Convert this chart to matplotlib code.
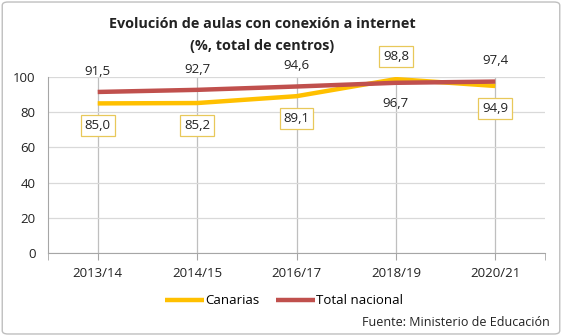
import matplotlib.pyplot as plt
from matplotlib.patches import FancyBboxPatch

cursos = ['2013/14', '2014/15', '2016/17', '2018/19', '2020/21']
canarias = [85.0, 85.2, 89.1, 98.8, 94.9]
total_nacional = [91.5, 92.7, 94.6, 96.7, 97.4]
# position of each label relative to its line: +1 above, -1 below
pos_canarias = [-1, -1, -1, 1, -1]
pos_nacional = [1, 1, 1, -1, 1]

yellow = '#FFC000'
red = '#C0504D'

plt.rcParams['font.family'] = ['Open Sans', 'DejaVu Sans']

fig = plt.figure(figsize=(5.62, 3.36), dpi=100)
ax = fig.add_axes([48 / 562, 1 - 253 / 336, (545 - 48) / 562, 176 / 336])

x = range(len(cursos))
ax.plot(x, canarias, color=yellow, linewidth=3.2, label='Canarias',
        solid_capstyle='butt')
ax.plot(x, total_nacional, color=red, linewidth=3.2, label='Total nacional',
        solid_capstyle='butt')

fmt = lambda v: '{:.1f}'.format(v).replace('.', ',')
for i in x:
    ax.annotate(fmt(canarias[i]), (i, canarias[i]),
                xytext=(0, 16 * pos_canarias[i]), textcoords='offset points',
                ha='center', va='center', fontsize=9.5, color='#222222',
                bbox=dict(boxstyle='square,pad=0.3', fc='white',
                          ec='#E8C85A', lw=0.9))
    ax.annotate(fmt(total_nacional[i]), (i, total_nacional[i]),
                xytext=(0, 15 * pos_nacional[i]), textcoords='offset points',
                ha='center', va='center', fontsize=9.5, color='#222222')

ax.set_xlim(-0.5, 4.5)
ax.set_ylim(0, 100)
ax.set_yticks(range(0, 101, 20))
ax.set_xticks(list(x))
ax.set_xticklabels(cursos)
ax.set_xticks([-0.5, 4.5], minor=True)
ax.grid(axis='y', color='#D9D9D9', linewidth=0.9)
ax.grid(axis='x', color='#BFBFBF', linewidth=0.9)
ax.set_axisbelow(True)
for side in ['top', 'right']:
    ax.spines[side].set_visible(False)
ax.spines['left'].set_color('#A6A6A6')
ax.spines['bottom'].set_color('#A6A6A6')
ax.tick_params(axis='x', which='both', length=5, color='#A6A6A6',
               labelsize=9.5, labelcolor='#222222', pad=5)
ax.tick_params(axis='y', length=0, labelsize=9.5, labelcolor='#222222', pad=9)

fig.text(0.466, 1 - 24 / 336, 'Evolución de aulas con conexión a internet',
         ha='center', va='center', fontsize=10.4, fontweight='bold',
         color='#222222')
fig.text(0.466, 1 - 46 / 336, '(%, total de centros)',
         ha='center', va='center', fontsize=10.4, fontweight='bold',
         color='#222222')

fig.legend(loc='center', bbox_to_anchor=(284 / 562, 1 - 301 / 336), ncol=2,
           frameon=False, fontsize=9.5, handlelength=3, handletextpad=0.1,
           columnspacing=1.2)
fig.text(550 / 562, 1 - 322 / 336, 'Fuente: Ministerio de Educación',
         ha='right', va='center', fontsize=9, color='#222222')

fig.patches.append(FancyBboxPatch((0.004, 0.006), 0.992, 0.988,
                                  boxstyle='round,pad=0,rounding_size=0.01',
                                  transform=fig.transFigure, fill=False,
                                  ec='#BFBFBF', lw=1))

fig.savefig('out.png', dpi=100)
